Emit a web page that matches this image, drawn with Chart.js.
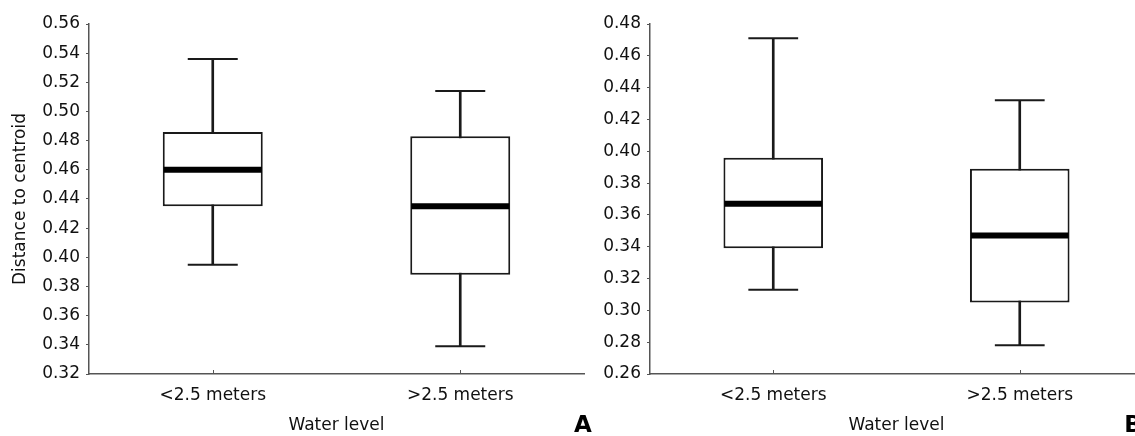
<!DOCTYPE html>
<html>
<head>
<meta charset="utf-8">
<script src="https://cdn.jsdelivr.net/npm/chart.js@4.4.1/dist/chart.umd.min.js"></script>
<style>
  html, body { margin: 0; padding: 0; background: #fff; overflow: hidden; }
  body { width: 1135px; height: 436px; position: relative; }
  canvas { position: absolute; top: 0; }
</style>
</head>
<body>
<canvas id="chartA" width="600" height="436" style="left:0"></canvas>
<canvas id="chartB" width="598" height="436" style="left:561px"></canvas>
<script>
const categories = ['<2.5 meters', '>2.5 meters'];

// panel A
const minA = [0.395, 0.339];
const q1A = [0.435, 0.388];
const medA = [0.460, 0.435];
const q3A = [0.486, 0.483];
const maxA = [0.536, 0.514];
const yRangeA = [0.32, 0.56];

// panel B
const minB = [0.313, 0.278];
const q1B = [0.339, 0.305];
const medB = [0.367, 0.347];
const q3B = [0.396, 0.389];
const maxB = [0.471, 0.432];
const yRangeB = [0.26, 0.48];

const yStep = 0.02;

const axisColor = '#555';
const lineColor = '#1a1a1a';

Chart.defaults.font.family = '"DejaVu Sans", sans-serif';
Chart.defaults.font.size = 17;
Chart.defaults.color = '#111';

// caps, medians, inner x ticks and the panel letter
function makeExtras(stats, letter, letterX) {
  return {
    id: 'boxExtras',
    afterDatasetsDraw(chart) {
      const ctx = chart.ctx;
      const xs = chart.scales.x, ys = chart.scales.y;
      const boxes = chart.getDatasetMeta(0).data;
      ctx.save();
      boxes.forEach((bar, i) => {
        const half = bar.width / 2;
        const cx = xs.getPixelForValue(i);
        ctx.strokeStyle = lineColor;
        ctx.lineWidth = 2;
        [stats.min[i], stats.max[i]].forEach(v => {
          const py = ys.getPixelForValue(v);
          ctx.beginPath();
          ctx.moveTo(cx - half / 2, py);
          ctx.lineTo(cx + half / 2, py);
          ctx.stroke();
        });
        const my = ys.getPixelForValue(stats.med[i]);
        ctx.strokeStyle = '#000';
        ctx.lineWidth = 6;
        ctx.beginPath();
        ctx.moveTo(cx - half + 1, my);
        ctx.lineTo(cx + half - 1, my);
        ctx.stroke();
      });
      // small ticks pointing into the plot
      ctx.strokeStyle = axisColor;
      ctx.lineWidth = 1;
      xs.ticks.forEach((t, i) => {
        const px = Math.round(xs.getPixelForTick(i)) + 0.5;
        ctx.beginPath();
        ctx.moveTo(px, chart.chartArea.bottom);
        ctx.lineTo(px, chart.chartArea.bottom - 4);
        ctx.stroke();
      });
      ctx.restore();
    },
    afterDraw(chart) {
      const ctx = chart.ctx;
      ctx.save();
      ctx.font = 'bold 23px "DejaVu Sans", sans-serif';
      ctx.fillStyle = '#000';
      ctx.textAlign = 'center';
      ctx.textBaseline = 'alphabetic';
      ctx.fillText(letter, letterX, 432);
      ctx.restore();
    }
  };
}

function makeChart(id, stats, yRange, yTitle, letter, letterX) {
  const ctx = document.getElementById(id).getContext('2d');
  return new Chart(ctx, {
    type: 'bar',
    data: {
      labels: categories,
      datasets: [
        {
          // boxes
          data: stats.q1.map((v, i) => [v, stats.q3[i]]),
          backgroundColor: '#fff',
          borderColor: lineColor,
          borderWidth: 2,
          borderSkipped: false,
          barPercentage: 0.404,
          categoryPercentage: 1,
          grouped: false
        },
        {
          // whiskers
          data: stats.min.map((v, i) => [v, stats.max[i]]),
          backgroundColor: lineColor,
          barThickness: 2,
          grouped: false
        }
      ]
    },
    options: {
      responsive: false,
      animation: false,
      layout: { padding: { top: 24, right: 16, left: 0, bottom: 0 } },
      plugins: {
        legend: { display: false },
        tooltip: { enabled: false }
      },
      scales: {
        x: {
          grid: { display: false },
          border: { display: true, color: axisColor, width: 1.5 },
          ticks: { padding: 3, color: '#111', maxRotation: 0 },
          title: { display: true, text: 'Water level', color: '#111', padding: { top: 0, bottom: 0 } },
          afterFit(scale) { scale.height = 62; }
        },
        y: {
          min: yRange[0],
          max: yRange[1],
          grid: { display: true, drawOnChartArea: false, drawTicks: true, tickLength: 3, tickColor: axisColor, tickWidth: 1 },
          border: { display: true, color: axisColor, width: 1.5 },
          ticks: {
            stepSize: yStep,
            padding: 6,
            color: '#111',
            callback: v => v.toFixed(2)
          },
          title: { display: !!yTitle, text: yTitle, color: '#111', padding: { top: 10, bottom: 0 } },
          afterFit(scale) { scale.width = 89; }
        }
      }
    },
    plugins: [makeExtras(stats, letter, letterX)]
  });
}

makeChart('chartA', { min: minA, q1: q1A, med: medA, q3: q3A, max: maxA }, yRangeA, 'Distance to centroid', 'A', 583);
makeChart('chartB', { min: minB, q1: q1B, med: medB, q3: q3B, max: maxB }, yRangeB, '', 'B', 572);
</script>
</body>
</html>
